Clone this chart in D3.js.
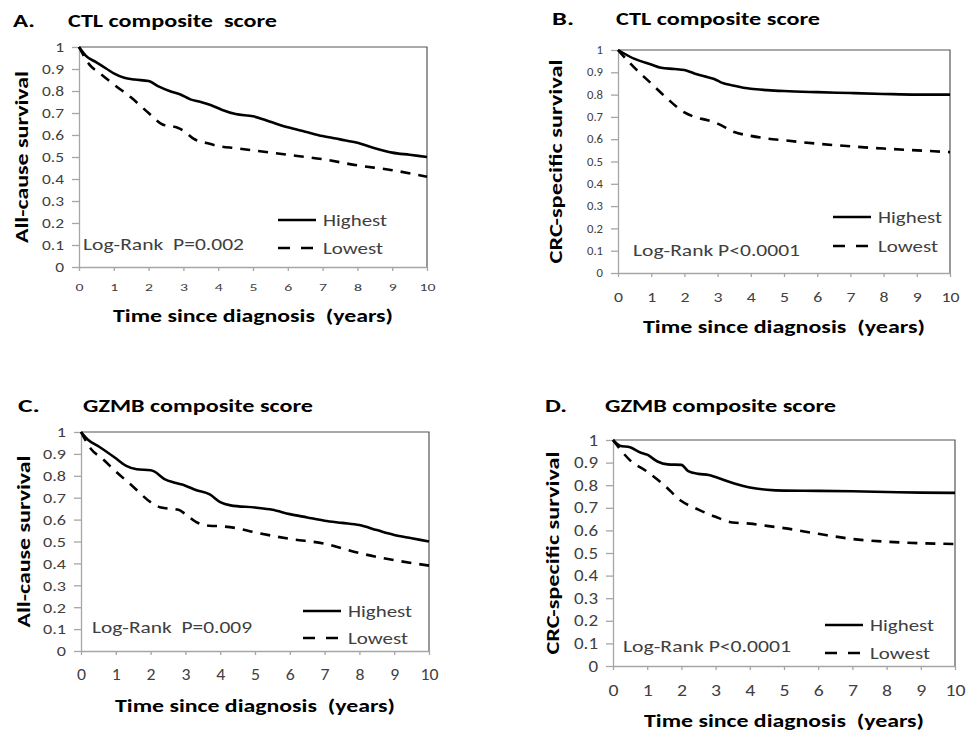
<!DOCTYPE html>
<html>
<head>
<meta charset="utf-8">
<script src="https://cdn.jsdelivr.net/npm/d3@7"></script>
<style>
  body { margin: 0; background: #fff; }
  text { font-family: Carlito, Calibri, Lato, sans-serif; }
</style>
</head>
<body>
<script>
const width = 968, height = 735;

// survival curves, [years, survival]
const ctlAllHighest = [[0,1],[0.2,0.96],[0.5,0.93],[0.8,0.9],[1,0.88],[1.3,0.86],[1.6,0.852],[2,0.845],[2.3,0.82],[2.6,0.8],[2.9,0.785],[3.2,0.762],[3.5,0.75],[3.8,0.735],[4.1,0.715],[4.5,0.695],[5,0.685],[5.5,0.66],[6,0.635],[6.5,0.615],[7,0.595],[7.5,0.58],[8,0.565],[8.5,0.54],[9,0.52],[9.5,0.51],[10,0.5]];
const ctlAllLowest = [[0,1],[0.3,0.92],[0.6,0.88],[1,0.83],[1.5,0.77],[2,0.7],[2.4,0.648],[2.8,0.635],[3,0.62],[3.3,0.582],[3.7,0.562],[4,0.55],[4.5,0.54],[5,0.53],[6,0.51],[7,0.49],[8,0.462],[9,0.44],[10,0.41]];
const ctlCrcHighest = [[0,1],[0.5,0.96],[1,0.935],[1.3,0.92],[1.7,0.915],[2,0.91],[2.3,0.895],[2.6,0.882],[2.9,0.87],[3.1,0.855],[3.5,0.84],[4,0.826],[4.5,0.82],[5,0.816],[6,0.811],[7,0.807],[8,0.803],[9,0.8],[10,0.8]];
const ctlCrcLowest = [[0,1],[0.5,0.92],[1,0.85],[1.5,0.78],[2,0.72],[2.3,0.7],[2.7,0.685],[3,0.67],[3.5,0.632],[4,0.615],[4.5,0.603],[5,0.595],[6,0.58],[7,0.568],[8,0.558],[9,0.55],[10,0.542]];
const gzmbAllHighest = [[0,1],[0.2,0.965],[0.5,0.935],[1,0.88],[1.3,0.845],[1.6,0.83],[2,0.825],[2.1,0.82],[2.4,0.785],[2.7,0.768],[3,0.755],[3.3,0.735],[3.7,0.715],[4,0.68],[4.3,0.665],[5,0.655],[5.5,0.645],[6,0.625],[6.5,0.61],[7,0.595],[7.5,0.585],[8,0.575],[8.5,0.552],[9,0.53],[9.5,0.515],[10,0.5]];
const gzmbAllLowest = [[0,1],[0.3,0.92],[0.6,0.88],[1,0.82],[1.5,0.75],[2,0.68],[2.3,0.655],[2.8,0.645],[3,0.625],[3.3,0.59],[3.7,0.572],[4,0.57],[4.5,0.56],[5,0.542],[6,0.512],[7,0.49],[8,0.447],[9,0.415],[10,0.39]];
const gzmbCrcHighest = [[0,1],[0.2,0.975],[0.5,0.968],[0.8,0.945],[1,0.935],[1.3,0.905],[1.6,0.892],[2,0.89],[2.2,0.862],[2.5,0.85],[2.8,0.845],[3,0.836],[3.5,0.81],[4,0.79],[4.5,0.78],[5,0.776],[6,0.775],[7,0.773],[8,0.77],[9,0.767],[10,0.766]];
const gzmbCrcLowest = [[0,1],[0.5,0.91],[1,0.86],[1.5,0.8],[2,0.73],[2.5,0.692],[3,0.66],[3.5,0.635],[4,0.63],[4.5,0.62],[5,0.61],[6,0.585],[7,0.562],[8,0.55],[9,0.543],[10,0.54]];

const xTicks = d3.range(0, 11);
const yTicks = d3.range(0, 11).map(d => d / 10);
const seriesNames = ["Highest", "Lowest"];

// layout per panel; *W are the text widths measured on the reference (it is stretched sideways)
const panels = [
  { letter: "A.", title: "CTL composite  score", ylab: "All-cause survival", p: "Log-Rank  P=0.002",
    high: ctlAllHighest, low: ctlAllLowest,
    box: [79, 427, 47, 267], titleY: 27, letterX: 13, titleX: 68, titleW: 209,
    ylabX: 22, ylabW: 172, xlabDy: 55, xlabW: 280,
    yFont: 15, y09W: 22, xFont: 11, x10W: 16, xPad: 12,
    legX: 278, legY: 220, legGap: 28, pX: 83, pY: 250, pW: 161 },
  { letter: "B.", title: "CTL composite score", ylab: "CRC-specific survival", p: "Log-Rank P<0.0001",
    high: ctlCrcHighest, low: ctlCrcLowest,
    box: [618, 950, 50, 273], titleY: 25, letterX: 552, titleX: 616, titleW: 204,
    ylabX: 556, ylabW: 204, xlabDy: 60, xlabW: 282,
    yFont: 11.5, y09W: 16, xFont: 14, x10W: 18, xPad: 15,
    legX: 833, legY: 217, legGap: 29, pX: 633, pY: 256, pW: 167 },
  { letter: "C.", title: "GZMB composite score", ylab: "All-cause survival", p: "Log-Rank  P=0.009",
    high: gzmbAllHighest, low: gzmbAllLowest,
    box: [81, 429, 432, 651], titleY: 412, letterX: 18, titleX: 83, titleW: 230,
    ylabX: 24, ylabW: 172, xlabDy: 61, xlabW: 280,
    yFont: 15, y09W: 23, xFont: 16, x10W: 18, xPad: 14,
    legX: 303, legY: 611, legGap: 27, pX: 92, pY: 633, pW: 160 },
  { letter: "D.", title: "GZMB composite score", ylab: "CRC-specific survival", p: "Log-Rank P<0.0001",
    high: gzmbCrcHighest, low: gzmbCrcLowest,
    box: [613, 955, 440, 666], titleY: 412, letterX: 545, titleX: 605, titleW: 231,
    ylabX: 553, ylabW: 203, xlabDy: 61, xlabW: 280,
    yFont: 16, y09W: 24, xFont: 16, x10W: 20, xPad: 15,
    legX: 825, legY: 625, legGap: 28, pX: 623, pY: 652, pW: 168 }
];

const svg = d3.select("body").append("svg")
    .attr("width", width)
    .attr("height", height);

// widen tick labels by the same factor that makes `refLabel` reach `target` px
function stretchTicks(axisG, refLabel, target) {
  const texts = axisG.selectAll(".tick text");
  let natural = null;
  texts.each(function () { if (this.textContent === refLabel) natural = this.getComputedTextLength(); });
  const k = natural ? target / natural : 1;
  texts.each(function () {
    const w = this.getComputedTextLength();
    d3.select(this).attr("textLength", w * k).attr("lengthAdjust", "spacingAndGlyphs");
  });
}

function fit(sel, w) {
  return sel.attr("textLength", w).attr("lengthAdjust", "spacingAndGlyphs");
}

panels.forEach(pn => {
  const [x0, x1, y0, y1] = pn.box;
  const x = d3.scaleLinear().domain([0, 10]).range([x0, x1]);
  const y = d3.scaleLinear().domain([0, 1]).range([y1, y0]);
  const g = svg.append("g");

  // frame: top/right darker, axes lighter
  g.append("path")
      .attr("d", `M${x0},${y0}H${x1}V${y1}`)
      .attr("fill", "none")
      .attr("stroke", "#555")
      .attr("stroke-width", 1.2);

  const xAxis = g.append("g")
      .attr("transform", `translate(0,${y1})`)
      .call(d3.axisBottom(x).tickValues(xTicks).tickSize(4).tickSizeOuter(0).tickPadding(pn.xPad));
  const yAxis = g.append("g")
      .attr("transform", `translate(${x0},0)`)
      .call(d3.axisLeft(y).tickValues(yTicks).tickSize(7).tickSizeOuter(0).tickPadding(8)
        .tickFormat(d => d === 0 ? "0" : d === 1 ? "1" : d3.format(".1f")(d)));

  [xAxis, yAxis].forEach(a => {
    a.select(".domain").attr("stroke", "#a6a6a6").attr("stroke-width", 1.3);
    a.selectAll(".tick line").attr("stroke", "#a6a6a6").attr("stroke-width", 1.3);
    a.selectAll(".tick text").attr("fill", "#404040").attr("font-family", null);
  });
  xAxis.selectAll(".tick text").attr("font-size", pn.xFont);
  yAxis.selectAll(".tick text").attr("font-size", pn.yFont);
  stretchTicks(xAxis, "10", pn.x10W);
  stretchTicks(yAxis, "0.9", pn.y09W);

  const line = d3.line().x(d => x(d[0])).y(d => y(d[1])).curve(d3.curveMonotoneX);

  g.append("path").datum(pn.high)
      .attr("d", line)
      .attr("fill", "none")
      .attr("stroke", "#000")
      .attr("stroke-width", 2.6);
  g.append("path").datum(pn.low)
      .attr("d", line)
      .attr("fill", "none")
      .attr("stroke", "#000")
      .attr("stroke-width", 2.6)
      .attr("stroke-dasharray", "10,8");

  // titles
  fit(g.append("text")
      .attr("x", pn.letterX).attr("y", pn.titleY)
      .attr("font-size", 18).attr("font-weight", "bold")
      .text(pn.letter), 22);
  fit(g.append("text")
      .attr("x", pn.titleX).attr("y", pn.titleY)
      .attr("font-size", 18).attr("font-weight", "bold")
      .attr("xml:space", "preserve")
      .text(pn.title), pn.titleW);

  fit(g.append("text")
      .attr("x", (x0 + x1) / 2).attr("y", y1 + pn.xlabDy)
      .attr("text-anchor", "middle")
      .attr("font-size", 18).attr("font-weight", "bold")
      .attr("xml:space", "preserve")
      .text("Time since diagnosis  (years)"), pn.xlabW);

  fit(g.append("text")
      .attr("transform", `translate(${pn.ylabX},${(y0 + y1) / 2}) rotate(-90)`)
      .attr("text-anchor", "middle")
      .attr("dy", "0.35em")
      .attr("font-size", 18).attr("font-weight", "bold")
      .text(pn.ylab), pn.ylabW);

  // legend
  seriesNames.forEach((name, i) => {
    const ly = pn.legY + i * pn.legGap;
    g.append("line")
        .attr("x1", pn.legX).attr("x2", pn.legX + 38)
        .attr("y1", ly).attr("y2", ly)
        .attr("stroke", "#000").attr("stroke-width", 2.6)
        .attr("stroke-dasharray", i === 0 ? null : "12,11");
    fit(g.append("text")
        .attr("x", pn.legX + 45).attr("y", ly)
        .attr("dy", "0.35em")
        .attr("font-size", 17).attr("fill", "#404040")
        .text(name), i === 0 ? 64 : 60);
  });

  fit(g.append("text")
      .attr("x", pn.pX).attr("y", pn.pY)
      .attr("font-size", 17).attr("fill", "#404040")
      .attr("xml:space", "preserve")
      .text(pn.p), pn.pW);
});
</script>
</body>
</html>
